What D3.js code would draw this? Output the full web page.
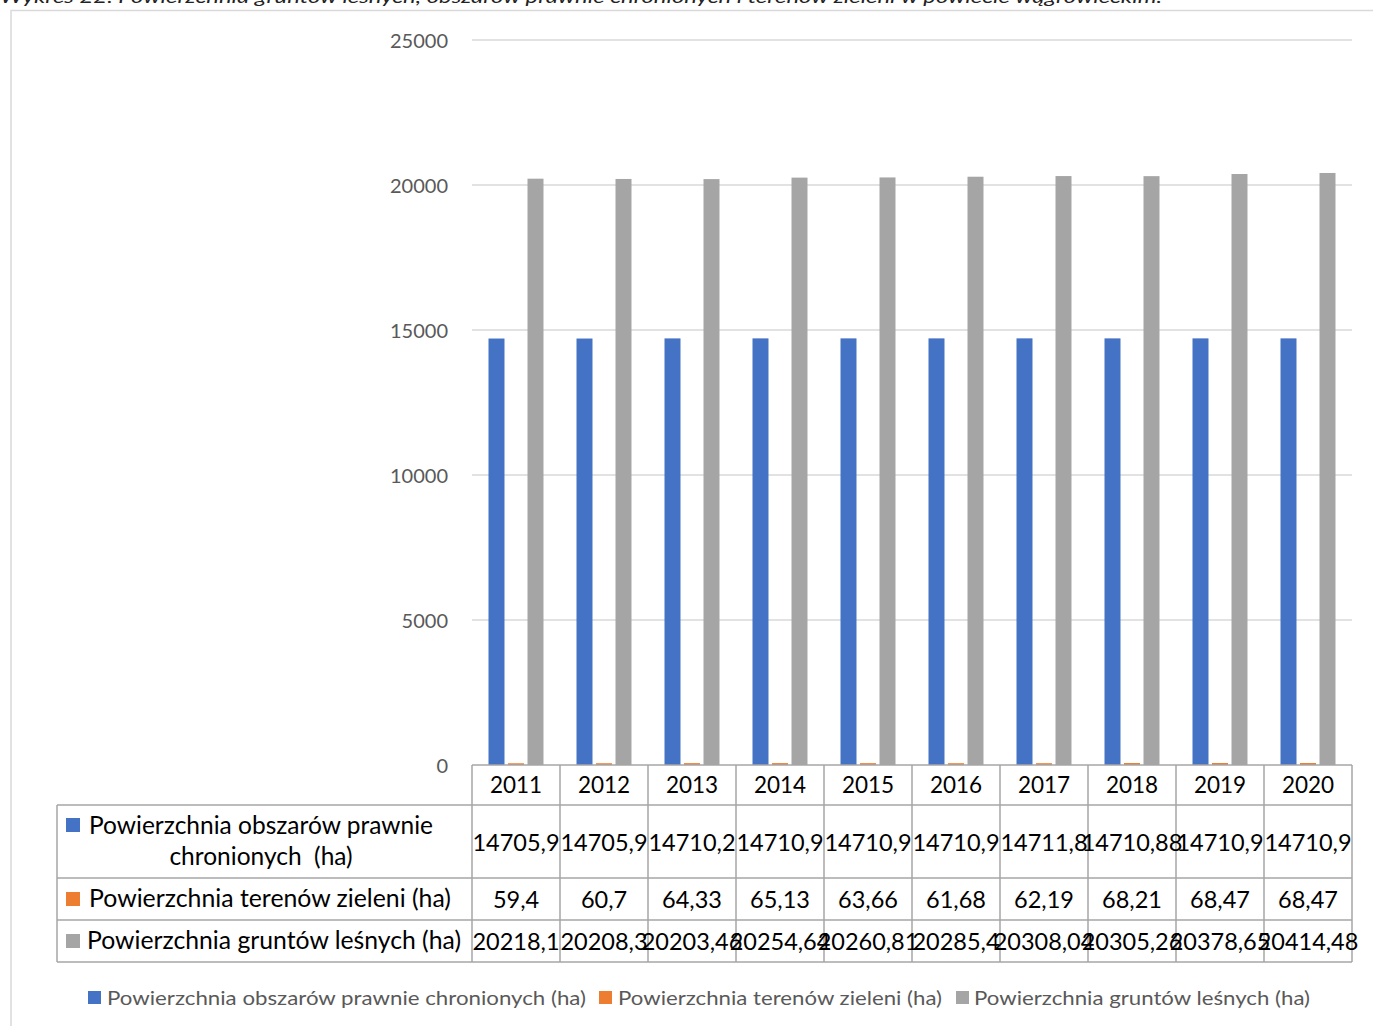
<!DOCTYPE html>
<html><head><meta charset="utf-8">
<script src="https://cdn.jsdelivr.net/npm/d3@7"></script>
<style>
html,body{margin:0;padding:0;background:#fff;}
svg{display:block;}
</style></head>
<body>
<script>
const title = "Wykres 22. Powierzchnia gruntów leśnych, obszarów prawnie chronionych i terenów zieleni w powiecie wągrowieckim.";
const years = ["2011","2012","2013","2014","2015","2016","2017","2018","2019","2020"];
const seriesNames = ["Powierzchnia obszarów prawnie chronionych (ha)","Powierzchnia terenów zieleni (ha)","Powierzchnia gruntów leśnych (ha)"];
const protectedArea = [14705.9,14705.9,14710.2,14710.9,14710.9,14710.9,14711.8,14710.88,14710.9,14710.9];
const greenArea = [59.4,60.7,64.33,65.13,63.66,61.68,62.19,68.21,68.47,68.47];
const forestArea = [20218.1,20208.3,20203.46,20254.64,20260.81,20285.4,20308.04,20305.26,20378.65,20414.48];
const protectedLabels = ["14705,9","14705,9","14710,2","14710,9","14710,9","14710,9","14711,8","14710,88","14710,9","14710,9"];
const greenLabels = ["59,4","60,7","64,33","65,13","63,66","61,68","62,19","68,21","68,47","68,47"];
const forestLabels = ["20218,1","20208,3","20203,46","20254,64","20260,81","20285,4","20308,04","20305,26","20378,65","20414,48"];
const yTicks = [0,5000,10000,15000,20000,25000];
const colors = ["#4472C4","#ED7D31","#A5A5A5"];

const W = 1373, H = 1026;
const svg = d3.select("body").append("svg").attr("width", W).attr("height", H);
const font = "Lato, 'Open Sans', sans-serif";

// title (cut off at top, as in the reference)
svg.append("text").attr("x", 0).attr("y", 3)
  .attr("font-family", font).attr("font-style", "italic").attr("font-size", 17)
  .attr("fill", "#222").attr("textLength", 1162).attr("lengthAdjust", "spacingAndGlyphs")
  .text(title);

// outer frame
svg.append("path").attr("d", `M11,${H} V10.5 H${W}`).attr("fill","none").attr("stroke","#d9d9d9").attr("stroke-width",1.5);

const x0 = 472, x1 = 1352, yTop = 40, yBase = 765;
const x = d3.scaleBand().domain(years).range([x0, x1]);
const y = d3.scaleLinear().domain([0, 25000]).range([yBase, yTop]);

// gridlines
svg.append("g").selectAll("line").data(yTicks.filter(d => d > 0)).join("line")
  .attr("x1", x0).attr("x2", x1).attr("y1", d => y(d)).attr("y2", d => y(d))
  .attr("stroke", "#d9d9d9").attr("stroke-width", 1.5);

// y axis labels
const yAxis = d3.axisLeft(y).tickValues(yTicks).tickSize(0).tickPadding(0).tickFormat(d => String(d));
const ga = svg.append("g").attr("transform", `translate(448,0)`).call(yAxis);
ga.select(".domain").remove();
ga.selectAll("text").attr("font-family", font).attr("font-size", 20).attr("fill", "#595959").attr("dy", "0.35em");

// bars
const xs = d3.scaleBand().domain([0,1,2]).range([0, 55]).paddingInner(0.18);
const all = [protectedArea, greenArea, forestArea];
years.forEach((yr, i) => {
  const g = svg.append("g").attr("transform", `translate(${x(yr) + x.bandwidth()/2 - 27.5},0)`);
  g.selectAll("rect").data(all.map((s, k) => ({k, v: s[i]}))).join("rect")
    .attr("x", d => xs(d.k)).attr("width", xs.bandwidth())
    .attr("y", d => y(d.v)).attr("height", d => yBase - y(d.v))
    .attr("fill", d => colors[d.k]);
});

// data table
const lineC = "#a6a6a6";
const tg = svg.append("g");
tg.append("line").attr("x1", x0).attr("x2", x1).attr("y1", 765).attr("y2", 765).attr("stroke", lineC).attr("stroke-width", 1.5);
[805, 878, 920, 962].forEach(yy => tg.append("line").attr("x1", 57).attr("x2", x1).attr("y1", yy).attr("y2", yy).attr("stroke", lineC).attr("stroke-width", 1.5));
tg.append("line").attr("x1", 57).attr("x2", 57).attr("y1", 805).attr("y2", 962).attr("stroke", lineC).attr("stroke-width", 1.5);
years.forEach(yr => tg.append("line").attr("x1", x(yr)).attr("x2", x(yr)).attr("y1", 765).attr("y2", 962).attr("stroke", lineC).attr("stroke-width", 1.5));
tg.append("line").attr("x1", x1).attr("x2", x1).attr("y1", 765).attr("y2", 962).attr("stroke", lineC).attr("stroke-width", 1.5);

const cellText = (arr, baseline, size) => tg.append("g").selectAll("text").data(arr).join("text")
  .attr("x", (d, i) => x(years[i]) + x.bandwidth()/2).attr("y", baseline)
  .attr("text-anchor", "middle").attr("font-family", font).attr("font-size", size).attr("fill", "#000")
  .text(d => d);
cellText(years, 793, 22.5);
cellText(protectedLabels, 851, 23.5);
cellText(greenLabels, 908, 23.5);
cellText(forestLabels, 950, 23.5);

// row headers
const rh = tg.append("g").attr("font-family", font).attr("font-size", 24.5).attr("fill", "#000");
rh.append("rect").attr("x", 66).attr("y", 818).attr("width", 14).attr("height", 14).attr("fill", colors[0]);
rh.append("text").attr("x", 89).attr("y", 834).attr("textLength", 344).attr("lengthAdjust", "spacingAndGlyphs").text("Powierzchnia obszarów prawnie");
rh.append("text").attr("x", 261).attr("y", 865).attr("text-anchor", "middle").attr("xml:space", "preserve").text("chronionych  (ha)");
rh.append("rect").attr("x", 66).attr("y", 892).attr("width", 14).attr("height", 14).attr("fill", colors[1]);
rh.append("text").attr("x", 89).attr("y", 907).attr("textLength", 362).attr("lengthAdjust", "spacingAndGlyphs").text(seriesNames[1]);
rh.append("rect").attr("x", 66).attr("y", 934).attr("width", 14).attr("height", 14).attr("fill", colors[2]);
rh.append("text").attr("x", 87).attr("y", 949).attr("textLength", 374).attr("lengthAdjust", "spacingAndGlyphs").text(seriesNames[2]);

// bottom legend
const legX = [[88, 107, 479], [599, 618, 324], [956, 974, 336]];
const lg = svg.append("g");
seriesNames.forEach((n, i) => {
  lg.append("rect").attr("x", legX[i][0]).attr("y", 991).attr("width", 13).attr("height", 13).attr("fill", colors[i]);
  lg.append("text").attr("x", legX[i][1]).attr("y", 1005).attr("font-family", font).attr("font-size", 20)
    .attr("fill", "#595959").attr("textLength", legX[i][2]).attr("lengthAdjust", "spacingAndGlyphs").text(n);
});
</script>
</body></html>
